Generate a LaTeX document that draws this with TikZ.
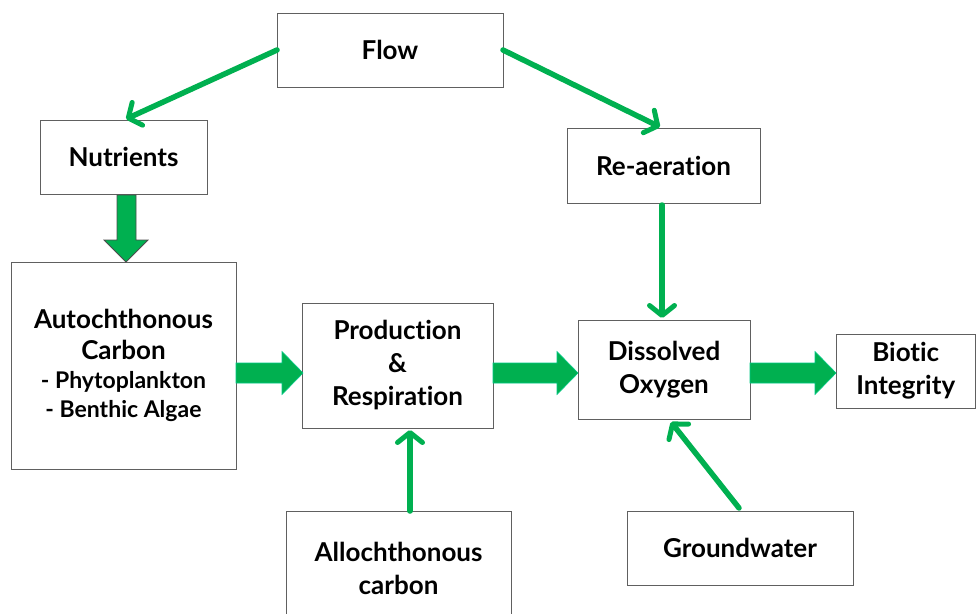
\documentclass[tikz,border=0pt]{standalone}
\usepackage{fontspec}
\setmainfont[Ligatures={NoCommon}]{Lato}
\usetikzlibrary{arrows.meta}
\definecolor{grn}{HTML}{00B050}
\definecolor{boxline}{HTML}{606060}
\tikzset{
  box/.style={draw=boxline, line width=1pt, fill=white, align=center, inner sep=0pt,
    font=\fontsize{26}{33}\selectfont\bfseries},
  thinarr/.style={draw=grn, line width=5.5pt, line cap=round,
    -{Straight Barb[length=10pt,width=25pt,line width=5pt,round]}},
  blockarr/.style={fill=grn, draw=grn!70!cyan, line width=0.6pt}
}
\begin{document}
\begin{tikzpicture}[x=1pt,y=-1pt]
\useasboundingbox (0,0) rectangle (976,613);
\newcommand{\mybox}[6]{%
  \draw[box] (#2,#3) rectangle (#4,#5);
  \node[box, draw=none, fill=none] (#1) at ({(#2+#4)/2},{(#3+#5)/2}) {#6};}
\mybox{flow}{277}{13}{503}{87}{Flow}
\mybox{nut}{40}{120}{207}{194}{Nutrients}
\mybox{rea}{567}{128}{760}{203}{Re-aeration}
\mybox{aut}{11}{262}{236}{469}{Autochthonous\\[-2pt]Carbon\\[-4pt]{\fontsize{23}{29}\selectfont - Phytoplankton}\\[-4pt]{\fontsize{23}{29}\selectfont - Benthic Algae}}
\mybox{prod}{302}{303}{493}{428}{Production\\\&\\Respiration}
\mybox{do}{578}{320}{750}{419}{Dissolved\\Oxygen}
\mybox{bio}{836}{334}{975.5}{408}{Biotic\\Integrity}
\mybox{allo}{286}{511}{511}{625}{\raisebox{-8pt}{\parbox{6cm}{\centering Allochthonous\\carbon}}}
\mybox{gw}{627}{511}{853}{585}{Groundwater}
% thin arrows
\coordinate (f1) at (277,50);
\coordinate (n1) at (126,119);
\coordinate (f2) at (503,50);
\coordinate (r1) at (660,127);
\coordinate (r2) at (662,205);
\coordinate (d1) at (662,318);
\coordinate (g1) at (739,508);
\coordinate (d2) at (671,422);
\coordinate (a1) at (410,511);
\coordinate (p1) at (410,430);
\draw[thinarr] (f1) -- (n1);
\draw[thinarr] (f2) -- (r1);
\draw[thinarr] (r2) -- (d1);
\draw[thinarr] (g1) -- (d2);
\draw[thinarr] (a1) -- (p1);
% block arrows
\draw[blockarr, draw=black!70, line width=0.8pt] (117,195) -- (136,195) -- (136,240) -- (148,240) -- (126,262) -- (104,240) -- (117,240) -- cycle;
\newcommand{\barrow}[3]{%
  \draw[blockarr] (#1,#3-10) -- (#2-21,#3-10) -- (#2-21,#3-21.5) -- (#2,#3) -- (#2-21,#3+21.5) -- (#2-21,#3+10) -- (#1,#3+10) -- cycle;}
\barrow{236}{303}{373}
\barrow{493}{578}{373}
\barrow{750}{836}{373}
\end{tikzpicture}
\end{document}
